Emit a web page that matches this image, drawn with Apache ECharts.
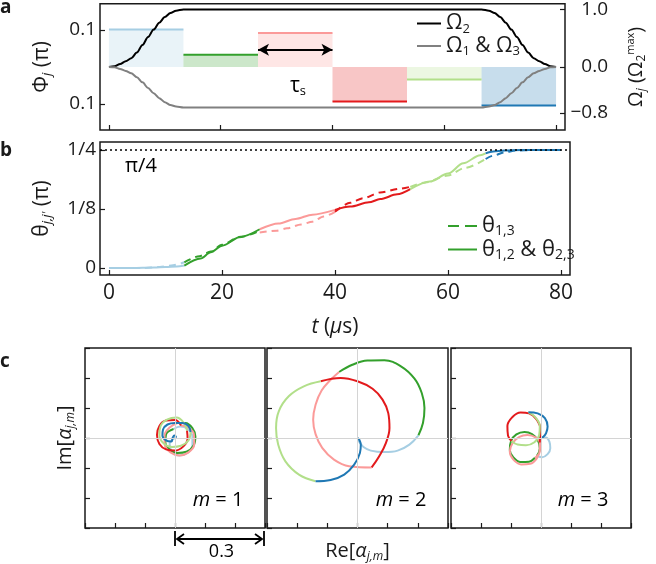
<!DOCTYPE html>
<html>
<head>
<meta charset="utf-8">
<script src="https://cdn.jsdelivr.net/npm/echarts@6/dist/echarts.min.js"></script>
<style>
  html, body { margin: 0; background: #fff; }
  #chart { width: 656px; height: 564px; }
</style>
</head>
<body>
<div id="chart"></div>
<script>
// segment colours (Paired colormap) and segment time boundaries (µs)
const segColors = ['#a6cee3', '#33a02c', '#fb9a99', '#e31a1c', '#b2df8a', '#1f78b4'];
const segBounds = [0, 13.33, 26.67, 40, 53.33, 66.67, 80];

// panel a: phase of each segment (π)
const phiValues = [0.101, 0.033, 0.091, -0.093, -0.034, -0.104];

// panel a: Rabi frequencies (units of Ω2 max)
const omegaTime = [0, 1, 2, 3, 4, 5, 6, 7, 8, 9, 10, 11, 12, 13.33,
  66.67, 68, 69, 70, 71, 72, 73, 74, 75, 76, 77, 78, 79, 80];
const omega2 = [0, 0.01, 0.05, 0.1, 0.15, 0.25, 0.38, 0.52, 0.65, 0.77, 0.87, 0.94, 0.98, 1,
  1, 0.98, 0.94, 0.87, 0.77, 0.65, 0.52, 0.38, 0.25, 0.15, 0.1, 0.05, 0.01, 0];
const omega13 = [0, -0.007, -0.035, -0.07, -0.11, -0.18, -0.27, -0.37, -0.46, -0.545, -0.615, -0.665, -0.69, -0.707,
  -0.707, -0.69, -0.665, -0.615, -0.545, -0.46, -0.37, -0.27, -0.18, -0.11, -0.07, -0.035, -0.007, 0];

// panel b: θ_{1,2} & θ_{2,3} (solid), one list per segment [t, θ/π]
const thetaSolid = [
  [[0, 0], [4, 0], [8, 0.001], [10, 0.002], [12, 0.003], [13.33, 0.005]],
  [[13.33, 0.005], [16.2, 0.02], [18, 0.033], [20, 0.047], [23.3, 0.066], [26.67, 0.082]],
  [[26.67, 0.082], [30, 0.094], [33, 0.104], [36, 0.113], [40, 0.123]],
  [[40, 0.123], [42.7, 0.13], [46, 0.139], [48, 0.146], [51, 0.156], [53.33, 0.167]],
  [[53.33, 0.167], [56.8, 0.183], [60, 0.2], [62.7, 0.222], [65.7, 0.239], [66.67, 0.243]],
  [[66.67, 0.243], [68, 0.247], [70, 0.249], [73, 0.25], [80, 0.25]]
];
// panel b: θ_{1,3} (dashed)
const thetaDashed = [
  [[0, 0], [6, 0], [9, 0.002], [11, 0.005], [13.33, 0.012]],
  [[13.33, 0.012], [16, 0.025], [18, 0.035], [20, 0.049], [23, 0.065], [26.67, 0.079]],
  [[26.67, 0.075], [29.7, 0.079], [31.5, 0.084], [34, 0.092], [36, 0.098], [38, 0.109], [40, 0.119]],
  [[40, 0.119], [42.7, 0.138], [45, 0.148], [48, 0.16], [51.5, 0.168], [53.33, 0.172]],
  [[53.33, 0.172], [56, 0.181], [60, 0.196], [63, 0.212], [66.67, 0.231]],
  [[66.67, 0.231], [68, 0.238], [70, 0.245], [72, 0.249], [75, 0.25], [80, 0.25]]
];

// panel c: phase-space trajectories [Re α, Im α], one list per segment
const trajM1 = [
  [[0, 0], [-0.018, -0.02], [-0.01, -0.045], [0.015, -0.058], [0.042, -0.05], [0.058, -0.025], [0.058, 0.005], [0.042, 0.03], [0.018, 0.038], [-0.005, 0.03]],
  [[-0.005, 0.03], [-0.03, 0.012], [-0.032, -0.015], [-0.018, -0.038], [0.008, -0.05], [0.038, -0.046], [0.062, -0.025], [0.068, 0.005], [0.058, 0.033], [0.035, 0.05], [0.008, 0.05]],
  [[0.008, 0.05], [-0.018, 0.035], [-0.035, 0.008], [-0.034, -0.022], [-0.015, -0.048], [0.015, -0.058], [0.045, -0.048], [0.064, -0.022], [0.063, 0.012], [0.045, 0.035], [0.02, 0.042]],
  [[0.02, 0.042], [0, 0.06], [-0.03, 0.058], [-0.052, 0.04], [-0.06, 0.01], [-0.052, -0.02], [-0.03, -0.038], [0, -0.042], [0.028, -0.028], [0.042, -0.002], [0.04, 0.025]],
  [[0.04, 0.025], [0.03, 0.05], [0.005, 0.068], [-0.025, 0.062], [-0.048, 0.04], [-0.052, 0.01], [-0.038, -0.018], [-0.01, -0.03], [0.02, -0.026], [0.045, -0.008], [0.052, 0.02]],
  [[0.052, 0.02], [0.045, 0.04], [0.025, 0.05], [0, 0.05], [-0.025, 0.045], [-0.04, 0.028], [-0.042, 0.008], [-0.03, -0.008], [-0.012, -0.012], [-0.008, 0], [-0.002, 0.008], [0.003, 0.004], [0, 0]]
];
const trajM2 = [
  [[0, 0], [0.006, -0.013], [0.02, -0.03], [0.044, -0.042], [0.089, -0.047], [0.133, -0.042], [0.172, -0.022], [0.202, 0.009]],
  [[0.202, 0.009], [0.217, 0.05], [0.222, 0.1], [0.213, 0.15], [0.189, 0.198], [0.144, 0.239], [0.089, 0.259], [0.033, 0.258], [-0.017, 0.244], [-0.061, 0.22]],
  [[-0.061, 0.22], [-0.089, 0.194], [-0.119, 0.158], [-0.139, 0.111], [-0.147, 0.061], [-0.139, 0.013], [-0.117, -0.033], [-0.078, -0.072], [-0.028, -0.094], [0.047, -0.098]],
  [[0.047, -0.098], [0.072, -0.061], [0.094, -0.017], [0.106, 0.033], [0.102, 0.083], [0.083, 0.128], [0.05, 0.164], [0, 0.189], [-0.056, 0.2], [-0.122, 0.189]],
  [[-0.122, 0.189], [-0.178, 0.172], [-0.228, 0.139], [-0.261, 0.089], [-0.27, 0.033], [-0.263, -0.022], [-0.239, -0.078], [-0.194, -0.122], [-0.139, -0.144]],
  [[-0.139, -0.144], [-0.089, -0.14], [-0.044, -0.122], [-0.011, -0.089], [0.008, -0.05], [0.011, -0.022], [0.006, -0.006], [0, 0]]
];
const trajM3 = [
  [[0, 0], [0.016, 0.002], [0.028, -0.012], [0.031, -0.034], [0.022, -0.054], [0.004, -0.064], [-0.014, -0.06]],
  [[-0.014, -0.06], [-0.004, -0.035], [-0.01, -0.008], [-0.03, 0.013], [-0.055, 0.02], [-0.082, 0.012], [-0.1, -0.01], [-0.104, -0.04], [-0.092, -0.065], [-0.068, -0.08], [-0.04, -0.079], [-0.02, -0.066]],
  [[-0.02, -0.066], [-0.004, -0.045], [-0.003, -0.018], [-0.018, 0.002], [-0.045, 0.01], [-0.072, 0.004], [-0.094, -0.016], [-0.104, -0.045], [-0.092, -0.072], [-0.066, -0.088], [-0.036, -0.086], [-0.014, -0.068], [-0.004, -0.04], [-0.004, -0.015]],
  [[-0.004, -0.015], [-0.002, 0.03], [-0.015, 0.062], [-0.04, 0.082], [-0.068, 0.085], [-0.095, 0.07], [-0.112, 0.04], [-0.11, 0.008], [-0.098, -0.01]],
  [[-0.098, -0.01], [-0.078, -0.022], [-0.05, -0.024], [-0.022, -0.014], [-0.006, 0.01], [-0.004, 0.04], [-0.018, 0.068], [-0.042, 0.086]],
  [[-0.042, 0.086], [-0.011, 0.082], [0.013, 0.066], [0.022, 0.038], [0.017, 0.016], [0.008, 0.004], [0, 0]]
];

const timeTicks = [0, 20, 40, 60, 80];
const thetaTicks = [0, 0.125, 0.25];
const thetaTickLabels = ['0', '1/8', '1/4'];
const phiTicks = [-0.1, 0.1];
const omegaTicks = [-0.8, 0, 1];

const FONT = "'Open Sans', 'DejaVu Sans', sans-serif";
const INK = '#1a1a1a';

function rich(size) {
  const sub = Math.round(size * 0.62);
  return {
    n: { fontSize: size, fontFamily: FONT, color: INK, lineHeight: size + 3 },
    i: { fontSize: size, fontFamily: FONT, color: INK, fontStyle: 'italic', lineHeight: size + 3 },
    s: { fontSize: sub, fontFamily: FONT, color: INK, verticalAlign: 'bottom', lineHeight: sub - 2 },
    si: { fontSize: sub, fontFamily: FONT, color: INK, fontStyle: 'italic', verticalAlign: 'bottom', lineHeight: sub - 2 },
    p: { fontSize: sub - 1, fontFamily: FONT, color: INK, verticalAlign: 'top', lineHeight: sub - 3 }
  };
}

const tickStyle = { inside: true, length: 5, lineStyle: { color: INK, width: 1.2 } };
const labelStyle = { color: INK, fontFamily: FONT, fontSize: 19 };
const noLine = { show: false, onZero: false };

const chart = echarts.init(document.getElementById('chart'));

const frame = { show: true, borderColor: INK, borderWidth: 1.5, backgroundColor: 'transparent' };

const grids = [
  Object.assign({ left: 100, top: 1, width: 470, height: 129 }, frame),
  Object.assign({ left: 100, top: 142, width: 470, height: 133 }, frame),
  Object.assign({ left: 85, top: 348, width: 180, height: 180 }, frame),
  Object.assign({ left: 267, top: 348, width: 181, height: 180 }, frame),
  Object.assign({ left: 451, top: 348, width: 180, height: 180 }, frame)
];

function phaseAxis(gridIndex, extra) {
  return Object.assign({
    type: 'value', gridIndex: gridIndex, min: -0.3, max: 0.3, interval: 0.1,
    axisLine: noLine, splitLine: { show: false },
    axisTick: tickStyle, axisLabel: { show: false }
  }, extra || {});
}

const xAxes = [
  {
    type: 'value', gridIndex: 0, min: -1.6, max: 81.6,
    axisLine: noLine, splitLine: { show: false },
    axisTick: Object.assign({ customValues: timeTicks }, tickStyle),
    axisLabel: { show: false }
  },
  {
    type: 'value', gridIndex: 1, min: -1.6, max: 81.6,
    axisLine: noLine, splitLine: { show: false },
    axisTick: Object.assign({ customValues: timeTicks }, tickStyle),
    axisLabel: Object.assign({ customValues: timeTicks, margin: 8 }, labelStyle, { fontSize: 21 }),
    name: '{i|t}{n| (}{i|µ}{n|s)}', nameLocation: 'middle', nameGap: 40,
    nameTextStyle: { rich: rich(21) }
  },
  phaseAxis(2),
  phaseAxis(3, {
    name: '{n|Re[}{i|α}{si|j,m}{n|]}', nameLocation: 'middle', nameGap: 12,
    nameTextStyle: { rich: rich(20), verticalAlign: 'top' }
  }),
  phaseAxis(4)
];

const yAxes = [
  {
    type: 'value', gridIndex: 0, min: -0.17, max: 0.17,
    axisLine: noLine, splitLine: { show: false },
    axisTick: Object.assign({ customValues: phiTicks }, tickStyle),
    axisLabel: Object.assign({ customValues: phiTicks, margin: 4, formatter: v => Math.abs(v).toFixed(1) }, labelStyle),
    name: '{n|Φ}{si|j}{n| (π)}', nameLocation: 'middle', nameRotate: 90, nameGap: 46,
    nameTextStyle: { rich: rich(21) }
  },
  {
    type: 'value', gridIndex: 0, position: 'right', min: -1.1, max: 1.1,
    axisLine: noLine, splitLine: { show: false },
    axisTick: Object.assign({ customValues: omegaTicks }, tickStyle),
    axisLabel: Object.assign({
      customValues: omegaTicks, margin: 43, align: 'right',
      formatter: v => (v < 0 ? '\u2212' : '') + Math.abs(v).toFixed(1)
    }, labelStyle),
    name: '{n|Ω}{si|j}{n| (Ω}{s|2}{p|max}{n|)}', nameLocation: 'middle', nameRotate: 90, nameGap: 60,
    nameTextStyle: { rich: rich(20) }
  },
  {
    type: 'value', gridIndex: 1, min: -0.015, max: 0.267,
    axisLine: noLine, splitLine: { show: false },
    axisTick: Object.assign({ customValues: thetaTicks }, tickStyle),
    axisLabel: Object.assign({
      customValues: thetaTicks, margin: 4,
      formatter: v => thetaTickLabels[thetaTicks.indexOf(v)]
    }, labelStyle),
    name: "{n|θ}{si|j,j'}{n| (π)}", nameLocation: 'middle', nameRotate: 90, nameGap: 46,
    nameTextStyle: { rich: rich(21) }
  },
  phaseAxis(2, {
    name: '{n|Im[}{i|α}{si|j,m}{n|]}', nameLocation: 'middle', nameRotate: 90, nameGap: 8,
    nameTextStyle: { rich: rich(20) }
  }),
  phaseAxis(3),
  phaseAxis(4)
];

const series = [];

// panel a: shaded phase steps
segColors.forEach((c, i) => {
  const s = {
    type: 'line', xAxisIndex: 0, yAxisIndex: 0, symbol: 'none', silent: true, z: 2,
    data: [[segBounds[i], phiValues[i]], [segBounds[i + 1], phiValues[i]]],
    lineStyle: { color: c, width: 2 },
    areaStyle: { color: c, opacity: 0.25 }
  };
  if (i === 2) {
    // τs double arrow over one segment
    s.markLine = {
      silent: true, symbol: ['arrow', 'arrow'], symbolSize: [9, 11],
      lineStyle: { color: '#000', width: 2, type: 'solid' }, label: { show: false },
      data: [[{ coord: [segBounds[2], 0.046] }, { coord: [segBounds[3], 0.046] }]]
    };
  }
  series.push(s);
});

series.push({
  name: 'O2', type: 'line', xAxisIndex: 0, yAxisIndex: 1, symbol: 'none', z: 5,
  smooth: 0.3, smoothMonotone: 'x',
  data: omegaTime.map((t, k) => [t, omega2[k]]),
  lineStyle: { color: '#000', width: 2 }, itemStyle: { color: '#000' }
});
series.push({
  name: 'O13', type: 'line', xAxisIndex: 0, yAxisIndex: 1, symbol: 'none', z: 5,
  smooth: 0.3, smoothMonotone: 'x',
  data: omegaTime.map((t, k) => [t, omega13[k]]),
  lineStyle: { color: '#808080', width: 2 }, itemStyle: { color: '#808080' }
});

// panel b: π/4 reference line
series.push({
  type: 'line', xAxisIndex: 1, yAxisIndex: 2, symbol: 'none', data: [], silent: true,
  markLine: {
    silent: true, symbol: 'none', label: { show: false },
    lineStyle: { color: '#000', width: 1.5, type: [2, 3] },
    data: [{ yAxis: 0.25 }]
  }
});

segColors.forEach((c, i) => {
  series.push({
    name: i === 1 ? 'th12' : 'sol' + i,
    type: 'line', xAxisIndex: 1, yAxisIndex: 2, symbol: 'none', smooth: 0.3, smoothMonotone: 'x',
    data: thetaSolid[i], lineStyle: { color: c, width: 2 }, itemStyle: { color: c }
  });
  series.push({
    name: i === 1 ? 'th13' : 'das' + i,
    type: 'line', xAxisIndex: 1, yAxisIndex: 2, symbol: 'none', smooth: 0.3, smoothMonotone: 'x',
    data: thetaDashed[i], lineStyle: { color: c, width: 2, type: [7, 5] }, itemStyle: { color: c }
  });
});

// panel c: phase-space trajectories
[trajM1, trajM2, trajM3].forEach((traj, m) => {
  series.push({
    type: 'line', xAxisIndex: 2 + m, yAxisIndex: 3 + m, symbol: 'none', silent: true, z: 1,
    data: [], markLine: {
      silent: true, symbol: 'none', label: { show: false },
      lineStyle: { color: '#d4d4d4', width: 1, type: 'solid' },
      data: [{ xAxis: 0 }, { yAxis: 0 }]
    }
  });
  traj.forEach((pts, i) => {
    series.push({
      type: 'line', xAxisIndex: 2 + m, yAxisIndex: 3 + m, symbol: 'none', smooth: 0.4, z: 3,
      data: pts, lineStyle: { color: segColors[i], width: 2 }
    });
  });
});

const legendNames = {
  O2: '{n|Ω}{s|2}',
  O13: '{n|Ω}{s|1}{n| & Ω}{s|3}',
  th13: '{n|θ}{s|1,3}',
  th12: '{n|θ}{s|1,2}{n| & θ}{s|2,3}'
};
const solidIcon = 'path://M0,0h24v2h-24z';
const dashIcon = 'path://M0,0h11v2h-11zM17,0h12v2h-12z';
const solidIconB = 'path://M0,0h29v2h-29z';

chart.setOption({
  animation: false,
  backgroundColor: '#fff',
  grid: grids,
  xAxis: xAxes,
  yAxis: yAxes,
  legend: [
    {
      data: [{ name: 'O2', icon: solidIcon }, { name: 'O13', icon: solidIcon }],
      left: 417, top: 13, orient: 'vertical', padding: 0,
      itemWidth: 24, itemHeight: 2, itemGap: 0, selectedMode: false,
      formatter: n => legendNames[n], textStyle: { rich: rich(21) }
    },
    {
      data: [{ name: 'th13', icon: dashIcon }, { name: 'th12', icon: solidIconB }],
      left: 448, top: 215, orient: 'vertical', padding: 0,
      itemWidth: 29, itemHeight: 2, itemGap: 0, selectedMode: false,
      formatter: n => legendNames[n], textStyle: { rich: rich(22) }
    }
  ],
  series: series
});

// annotations placed from the axes
const p0 = chart.convertToPixel({ xAxisIndex: 2, yAxisIndex: 3 }, [0, -0.3]);
const p1 = chart.convertToPixel({ xAxisIndex: 2, yAxisIndex: 3 }, [0.3, -0.3]);
const ay = p0[1] + 11;
const x0 = p0[0], x1 = p1[0] - 1;
const arrowStyle = { stroke: '#000', lineWidth: 1.8, fill: null };

function label(text, x, y, size, extra) {
  return {
    type: 'text', x: x, y: y, silent: true,
    style: Object.assign({ text: text, rich: rich(size), align: 'center', verticalAlign: 'middle' }, extra || {})
  };
}

chart.setOption({
  graphic: [
    { type: 'text', x: 0, y: 8, style: { text: 'a', font: 'bold 19px ' + FONT, fill: INK, verticalAlign: 'middle' } },
    { type: 'text', x: 0, y: 151, style: { text: 'b', font: 'bold 19px ' + FONT, fill: INK, verticalAlign: 'middle' } },
    { type: 'text', x: 0, y: 362, style: { text: 'c', font: 'bold 19px ' + FONT, fill: INK, verticalAlign: 'middle' } },
    label('{n|τ}{s|s}', 298, 86, 21),
    label('{n|π/4}', 141, 166, 20),
    label('{i|m}{n| = 1}', 218, 500, 20),
    label('{i|m}{n| = 2}', 401, 500, 20),
    label('{i|m}{n| = 3}', 583, 500, 20),
    label('{n|0.3}', (x0 + x1) / 2 + 2, ay + 13, 18),
    { type: 'line', shape: { x1: x0, y1: ay - 8, x2: x0, y2: ay + 7 }, style: arrowStyle },
    { type: 'line', shape: { x1: x1, y1: ay - 8, x2: x1, y2: ay + 7 }, style: arrowStyle },
    { type: 'line', shape: { x1: x0 + 2, y1: ay, x2: x1 - 2, y2: ay }, style: arrowStyle },
    { type: 'polyline', shape: { points: [[x0 + 9, ay - 5], [x0 + 2, ay], [x0 + 9, ay + 5]] }, style: arrowStyle },
    { type: 'polyline', shape: { points: [[x1 - 9, ay - 5], [x1 - 2, ay], [x1 - 9, ay + 5]] }, style: arrowStyle }
  ]
});
</script>
</body>
</html>
